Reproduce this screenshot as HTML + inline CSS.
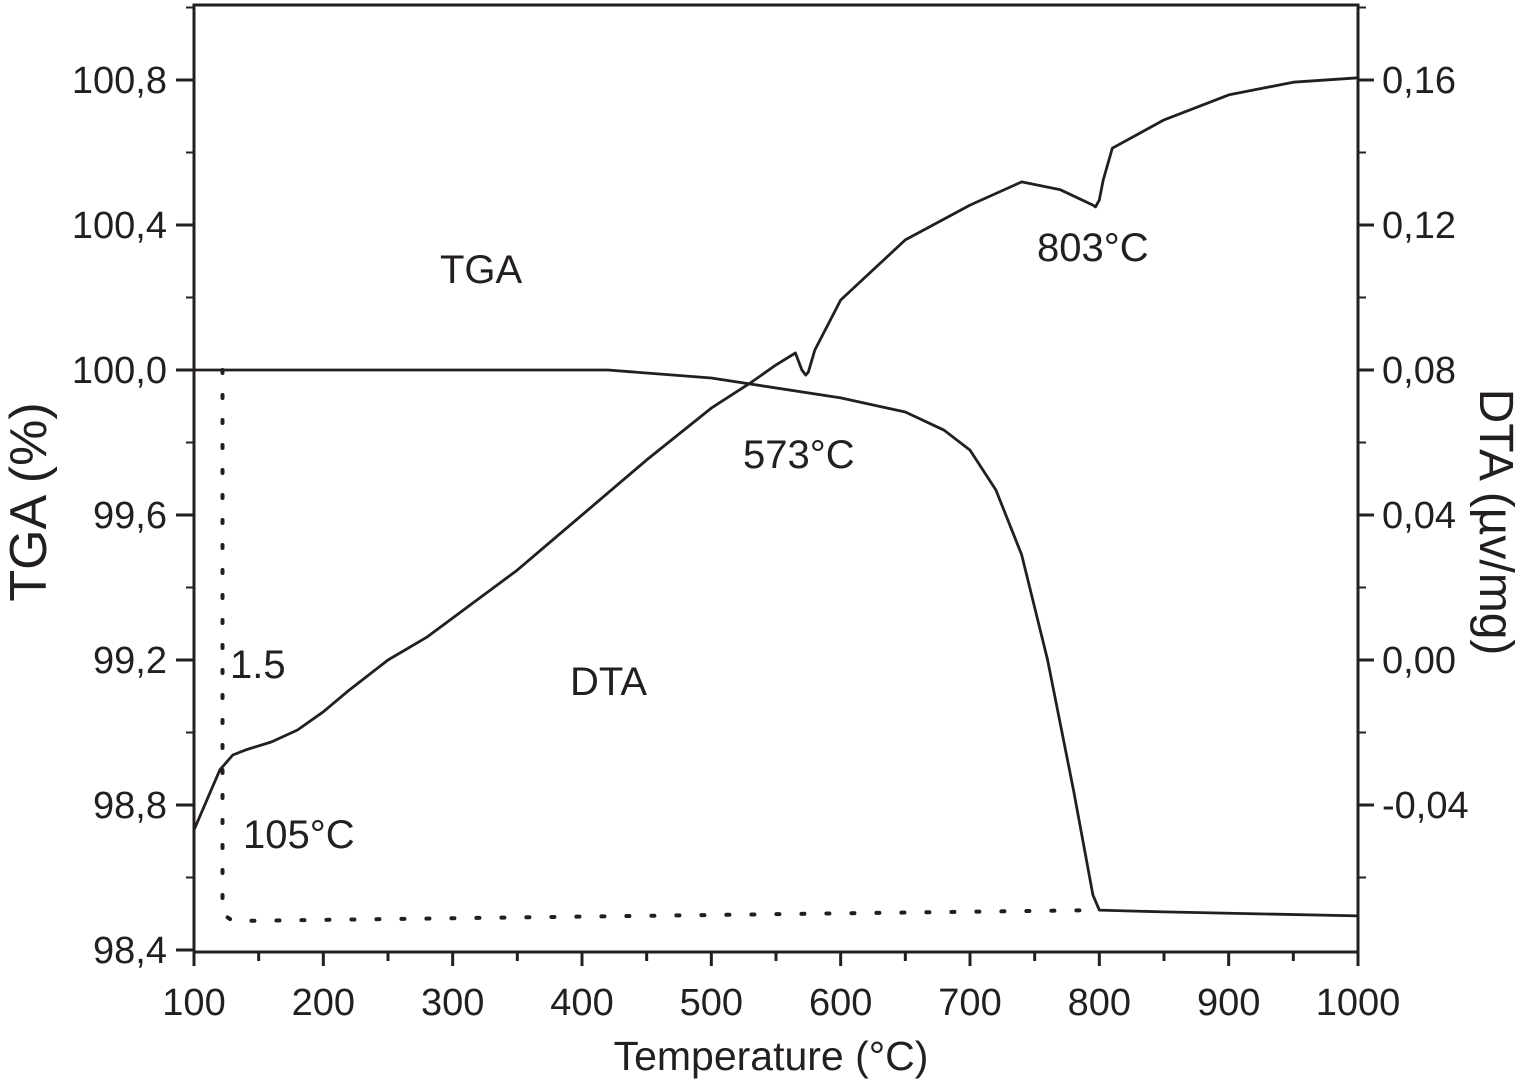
<!DOCTYPE html>
<html><head><meta charset="utf-8"><style>
body{margin:0;background:#fff}
svg text{font-family:"Liberation Sans",Arial,sans-serif;fill:#231f20}
</style></head><body>
<svg id="chart" width="1526" height="1079" viewBox="0 0 1526 1079" xmlns="http://www.w3.org/2000/svg">
<g id="axes"></g>
<g id="marks"></g>
<g id="labels">
<text x="440" y="283" font-size="40">TGA</text>
<text x="570" y="695" font-size="40">DTA</text>
<text x="743" y="468" font-size="40">573°C</text>
<text x="1037" y="261" font-size="40">803°C</text>
<text x="243" y="848" font-size="40">105°C</text>
<text x="230" y="678" font-size="40">1.5</text>
<text x="771" y="1070" font-size="41" text-anchor="middle">Temperature (°C)</text>
<text transform="translate(46,502) rotate(-90)" font-size="52" text-anchor="middle">TGA (%)</text>
<text transform="translate(1480,522) rotate(90)" font-size="48" text-anchor="middle">DTA (µv/mg)</text>
</g>
</svg>
<script>
const xTicks=[100,200,300,400,500,600,700,800,900,1000];
const leftTicks=[98.4,98.8,99.2,99.6,100.0,100.4,100.8];
const leftTickLabels=["98,4","98,8","99,2","99,6","100,0","100,4","100,8"];
const rightTicks=[-0.04,0.00,0.04,0.08,0.12,0.16];
const rightTickLabels=["-0,04","0,00","0,04","0,08","0,12","0,16"];
const tgaT=[100,420,500,600,650,680,700,720,740,760,780,795,800,850,1000];
const tgaV=[100,100,99.978,99.923,99.884,99.834,99.779,99.669,99.49,99.2,98.841,98.552,98.51,98.505,98.494];
const dtaT=[100,110,120,130,140,160,180,200,220,250,280,300,350,400,450,500,530,550,565,570,573,575,580,600,650,700,740,770,795,797,800,803,810,850,900,950,1000];
const dtaV=[-0.0469,-0.0386,-0.0303,-0.0262,-0.0248,-0.0226,-0.0193,-0.0143,-0.0083,0.0,0.0063,0.0116,0.0248,0.04,0.0552,0.0695,0.0764,0.0814,0.0847,0.0800,0.0786,0.0794,0.0855,0.0993,0.1159,0.1255,0.1319,0.1297,0.1255,0.1250,0.1269,0.1324,0.1412,0.149,0.1559,0.1594,0.1606];
const refT=[122,122,130,800];
const refV=[100.0,98.5,98.48,98.51];

const L=194,R=1358,T=5,B=952;
const sx=t=>L+(t-100)*(R-L)/900;
const syL=v=>370-(v-100)*362.5;
const syR=v=>370-(v-0.08)*3625;
const NS="http://www.w3.org/2000/svg";
function mk(tag,attrs,parent){const e=document.createElementNS(NS,tag);for(const k in attrs)e.setAttribute(k,attrs[k]);parent.appendChild(e);return e;}
const ax=document.getElementById('axes'),mg=document.getElementById('marks');
const frame=mk('rect',{x:L,y:T,width:R-L,height:B-T,fill:'none',stroke:'#231f20','stroke-width':3},ax);


for(let i=0;i<xTicks.length;i++){const x=sx(xTicks[i]);
 const tk=mk('line',{x1:x,x2:x,y1:B,y2:B+14,stroke:'#231f20','stroke-width':3},ax);
 
 
 if(i<xTicks.length-1){const xm=sx(xTicks[i]+50);const m=mk('line',{x1:xm,x2:xm,y1:B,y2:B+9,stroke:'#231f20','stroke-width':3},ax);
 
 }
 const t=mk('text',{x:x,y:1015,'font-size':38,'text-anchor':'middle'},ax);t.textContent=xTicks[i];
 
 }
for(let i=0;i<leftTicks.length;i++){const y=syL(leftTicks[i]);
 const tk=mk('line',{x1:L-18,x2:L,y1:y,y2:y,stroke:'#231f20','stroke-width':3},ax);
 
 
 const m=mk('line',{x1:L-8,x2:L,y1:y-72.5,y2:y-72.5,stroke:'#231f20','stroke-width':2},ax);
 
 
 const t=mk('text',{x:L-27,y:y+13,'font-size':38,'text-anchor':'end'},ax);t.textContent=leftTickLabels[i];
 
 }
for(let i=0;i<rightTicks.length;i++){const y=syR(rightTicks[i]);
 const tk=mk('line',{x1:R,x2:R+16,y1:y,y2:y,stroke:'#231f20','stroke-width':3},ax);
 
 
 for(const d of [-72.5,72.5]){const m=mk('line',{x1:R,x2:R+8,y1:y+d,y2:y+d,stroke:'#231f20','stroke-width':2},ax);
 
 }
 const t=mk('text',{x:R+24,y:y+13,'font-size':38},ax);t.textContent=rightTickLabels[i];
 
 }
function pts(ts,vs,sy){return ts.map((t,i)=>sx(t).toFixed(1)+','+sy(vs[i]).toFixed(1)).join(' ');}
const tga=mk('polyline',{points:pts(tgaT,tgaV,syL),fill:'none',stroke:'#231f20','stroke-width':2.8,'stroke-linejoin':'round'},mg);


const dta=mk('polyline',{points:pts(dtaT,dtaV,syR),fill:'none',stroke:'#231f20','stroke-width':2.8,'stroke-linejoin':'round'},mg);


const ref=mk('polyline',{points:pts(refT,refV,syL),fill:'none',stroke:'#231f20','stroke-width':4,'stroke-dasharray':'3 22','stroke-linecap':'round'},mg);


</script>
</body></html>
